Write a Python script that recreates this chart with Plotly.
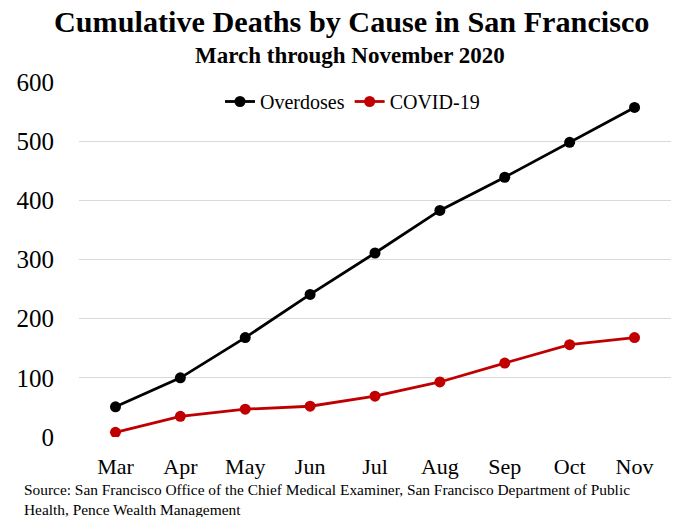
import plotly.graph_objects as go

months = ["Mar", "Apr", "May", "Jun", "Jul", "Aug", "Sep", "Oct", "Nov"]
overdoses = [51, 100, 168, 241, 311, 383, 439, 498, 557]
covid = [8, 35, 47, 52, 69, 93, 125, 156, 168]
y_ticks = [0, 100, 200, 300, 400, 500, 600]
source_lines = [
    "Source: San Francisco Office of the Chief Medical Examiner, San Francisco Department of Public",
    "Health, Pence Wealth Management",
]

serif = "Liberation Serif, Times New Roman, serif"

fig = go.Figure()
fig.add_trace(go.Scatter(
    x=months, y=overdoses, name="Overdoses", mode="lines+markers",
    line=dict(color="#000000", width=2.8),
    marker=dict(color="#000000", size=11),
))
fig.add_trace(go.Scatter(
    x=months, y=covid, name="COVID-19", mode="lines+markers",
    line=dict(color="#c00000", width=2.8),
    marker=dict(color="#c00000", size=11),
))

fig.update_layout(
    width=676, height=517,
    margin=dict(l=79, r=5, t=82, b=80),
    paper_bgcolor="white", plot_bgcolor="white",
    font=dict(family=serif, color="#000000"),
    showlegend=True,
    legend=dict(
        orientation="h", x=0.462, xanchor="center", y=1.0, yanchor="top",
        font=dict(size=20, family=serif), itemwidth=30,
        bgcolor="rgba(0,0,0,0)",
    ),
    xaxis=dict(
        type="category", showgrid=False, showline=False, zeroline=False,
        tickfont=dict(size=22, family=serif), ticks="", ticklabelstandoff=14,
    ),
    yaxis=dict(
        range=[0, 600], tickvals=y_ticks, showgrid=True, gridcolor="#d9d9d9",
        gridwidth=1, zeroline=False, showline=False,
        tickfont=dict(size=25, family=serif), ticks="", ticklabelstandoff=24,
    ),
)

# Title and subtitle
fig.add_annotation(
    text="<b>Cumulative Deaths by Cause in San Francisco</b>",
    xref="paper", yref="paper", x=0.461, y=1.169, xanchor="center", yanchor="middle",
    showarrow=False, font=dict(size=30.2, family=serif),
)
fig.add_annotation(
    text="<b>March through November 2020</b>",
    xref="paper", yref="paper", x=0.458, y=1.076, xanchor="center", yanchor="middle",
    showarrow=False, font=dict(size=23, family=serif),
)

# Source note, one annotation per line for tight spacing
for line, ypos in zip(source_lines, [-0.149, -0.203]):
    fig.add_annotation(
        text=line, xref="paper", yref="paper", x=-0.096, y=ypos,
        xanchor="left", yanchor="middle", align="left", showarrow=False,
        font=dict(size=15.4, family=serif),
    )

fig.write_html("out.html")
